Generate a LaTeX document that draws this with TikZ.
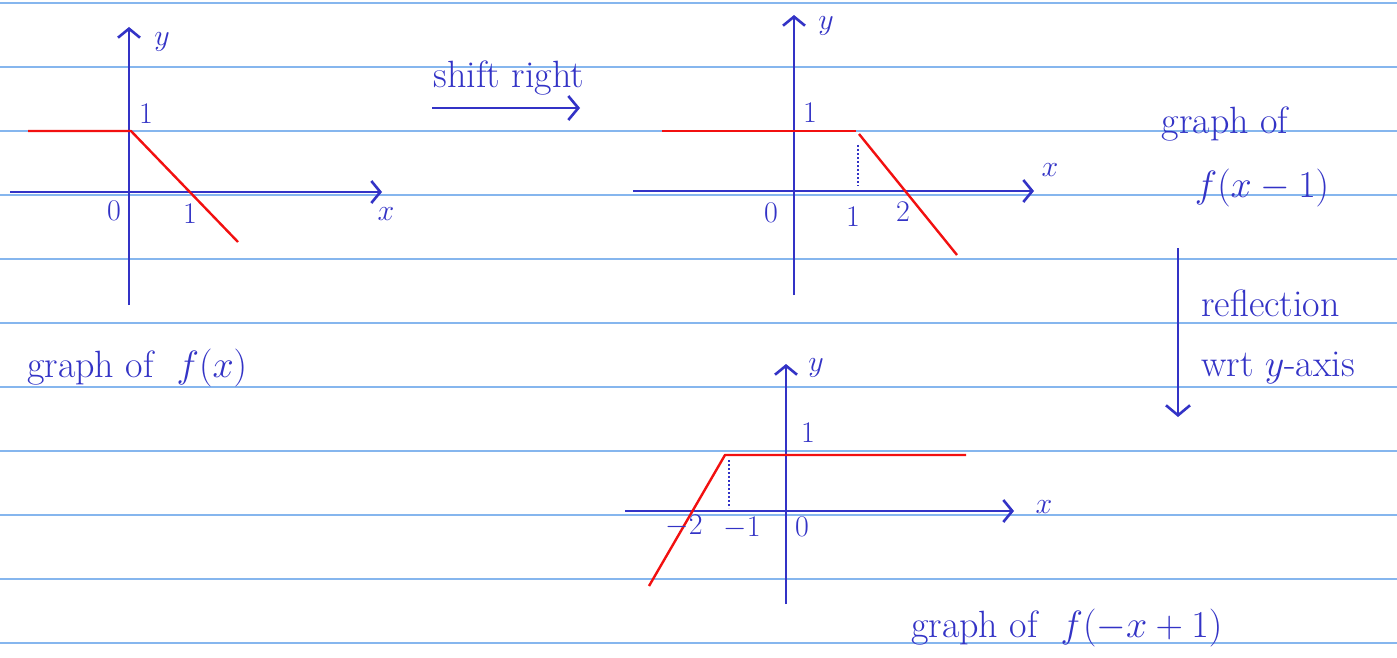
\RequirePackage{fix-cm}
\documentclass[tikz,border=0pt]{standalone}
\usepackage{tikz}
\usetikzlibrary{arrows.meta}
\definecolor{pen}{HTML}{3333C6}
\definecolor{curve}{HTML}{F21010}
\definecolor{rule}{HTML}{86B6EE}

\begin{document}
\begin{tikzpicture}[
  x=1pt,y=-1pt,
  font=\fontsize{38}{44}\selectfont,
  every node/.style={text=pen,inner sep=1pt},
  ruled/.style={draw=rule,line width=1.4pt},
  axis/.style={draw=pen,line width=2.6pt,-{Straight Barb[length=9pt,width=22pt]}},
  graph/.style={draw=curve,line width=2.4pt,line join=round},
  drop/.style={draw=pen,line width=2pt,dotted},
  move/.style={draw=pen,line width=2.6pt,-{Straight Barb[length=10pt,width=24pt]}},
  lab/.style={font=\fontsize{30}{34}\selectfont}]

\useasboundingbox (0,0) rectangle (1397,658);
\fill[white] (0,0) rectangle (1397,658);
\foreach \r in {3,67,...,643} \draw[ruled] (0,\r) -- (1397,\r);

% graph of f(x)
\coordinate (ab) at (129,305);
\coordinate (at) at (129,27);
\coordinate (al) at (10,192);
\coordinate (ar) at (382,192);
\coordinate (aa) at (28,131);
\coordinate (ak) at (131,131);
\coordinate (ae) at (238,242);
\draw[axis] (ab) -- (at);
\draw[axis] (al) -- (ar);
\draw[graph] (aa) -- (ak) -- (ae);
\node[lab] (ay) at (162,42) {$y$};
\node[lab] (ax) at (386,214) {$x$};
\node[lab] (a1) at (146,114) {1};
\node[lab] (a0) at (114,211) {0};
\node[lab] (ax1) at (190,214) {1};
\node[anchor=west] (acap) at (26,368) {graph of \ $f(x)$};

% shift right
\coordinate (sl) at (432,108);
\coordinate (sr) at (580,108);
\draw[move] (sl) -- (sr);
\node (stxt) at (509,78) {shift right};

% graph of f(x-1)
\coordinate (bb) at (794,295);
\coordinate (bt) at (794,15);
\coordinate (bl) at (633,191);
\coordinate (br) at (1034,191);
\coordinate (ba) at (662,131);
\coordinate (bk) at (856,131);
\coordinate (bs) at (859,134);
\coordinate (be) at (957,255);
\coordinate (bd) at (858,145);
\coordinate (bf) at (858,186);
\draw[axis] (bb) -- (bt);
\draw[axis] (bl) -- (br);
\draw[graph] (ba) -- (bk);
\draw[graph] (bs) -- (be);
\draw[drop] (bd) -- (bf);
\node[lab] (by) at (826,26) {$y$};
\node[lab] (bx) at (1050,170) {$x$};
\node[lab] (b1) at (810,113) {1};
\node[lab] (b0) at (771,213) {0};
\node[lab] (bx1) at (853,217) {1};
\node[lab] (bx2) at (903,212) {2};
\node (bcap) at (1225,124) {graph of};
\node (bfun) at (1262,188) {$f(x-1)$};

% reflection
\coordinate (rt) at (1178,248);
\coordinate (rb) at (1178,417);
\draw[move] (rt) -- (rb);
\node[anchor=west] (rtxt) at (1200,303) {reflection};
\node[anchor=west] (wtxt) at (1200,368) {wrt $y$-axis};

% graph of f(-x+1)
\coordinate (cb) at (786,604);
\coordinate (ct) at (786,364);
\coordinate (cl) at (625,511);
\coordinate (cr) at (1014,511);
\coordinate (ca) at (966,455);
\coordinate (ck) at (725,455);
\coordinate (ce) at (649,586);
\coordinate (cd) at (729,460);
\coordinate (cf) at (729,508);
\draw[axis] (cb) -- (ct);
\draw[axis] (cl) -- (cr);
\draw[graph] (ca) -- (ck) -- (ce);
\draw[drop] (cd) -- (cf);
\node[lab] (cy) at (816,368) {$y$};
\node[lab] (cx) at (1044,507) {$x$};
\node[lab] (c1) at (808,433) {1};
\node[lab] (cx2) at (684,526) {$-2$};
\node[lab] (cx1) at (742,528) {$-1$};
\node[lab] (c0) at (802,527) {0};
\node[anchor=west] (ccap) at (910,628) {graph of \ $f(-x+1)$};
\end{tikzpicture}
\end{document}
